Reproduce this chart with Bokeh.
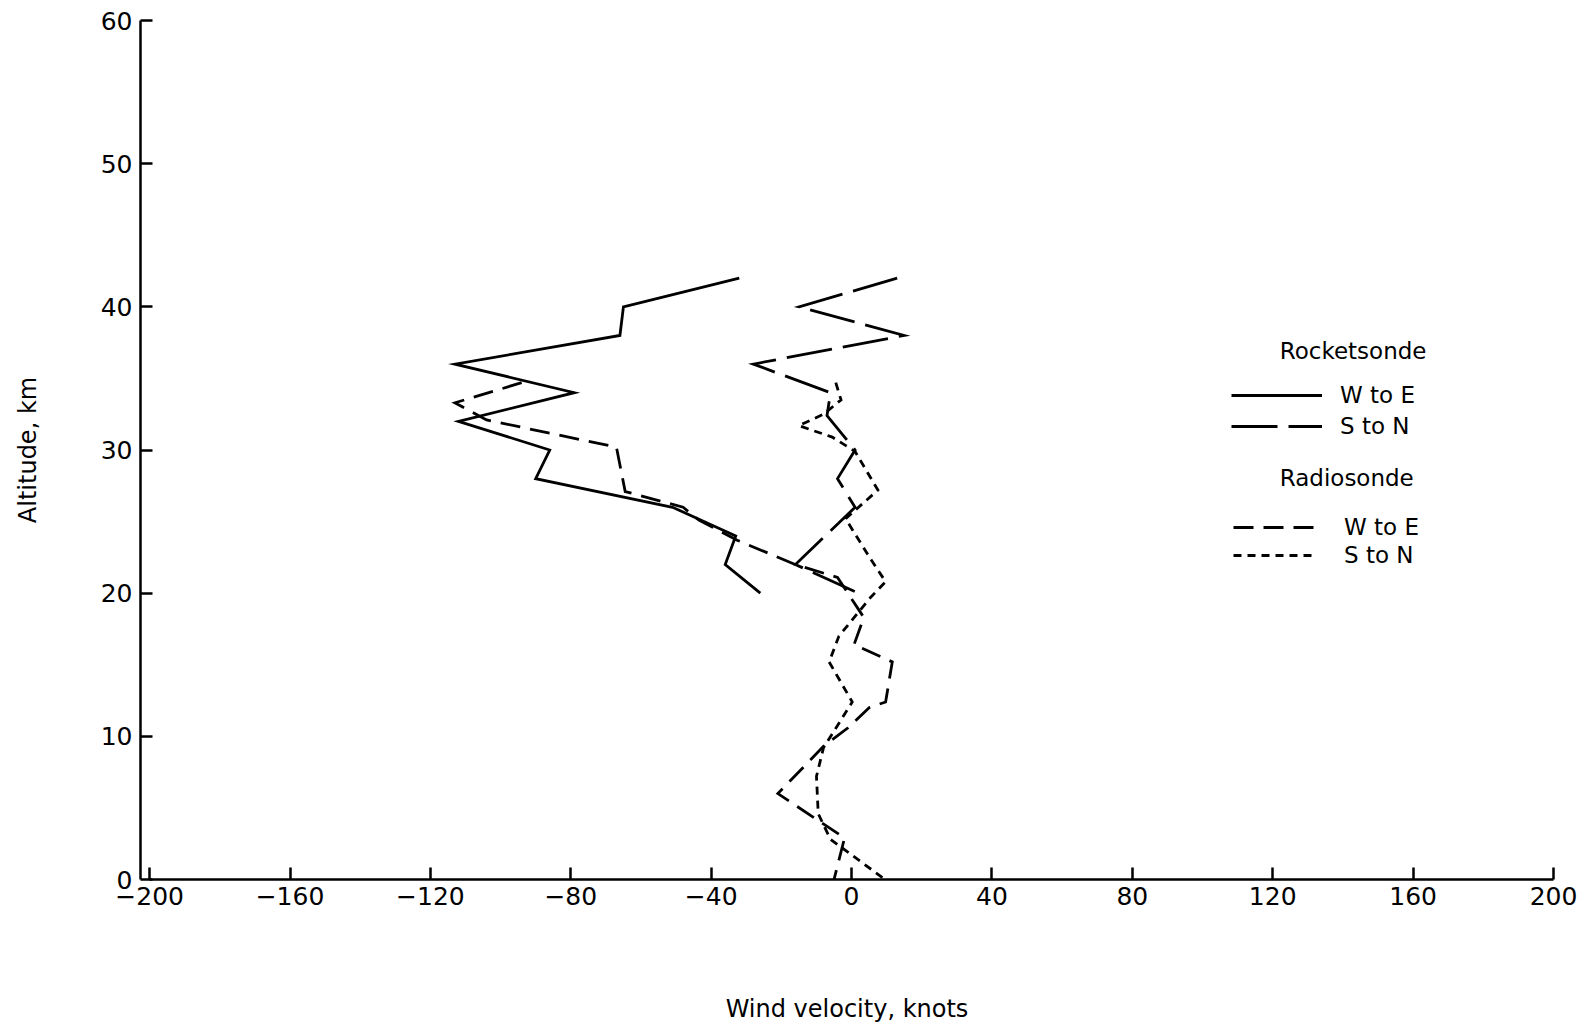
from bokeh.plotting import figure
from bokeh.models import Range1d, FixedTicker, Legend, LegendItem, Label
from bokeh.embed import file_html
from bokeh.resources import INLINE

# ---- data (altitude in km, wind component in knots) ----
rocket_alt_we = [42, 40, 38, 36, 34, 32, 30, 28, 26, 24, 22, 20]
rocket_we = [-32, -65, -66, -113, -79, -112, -86, -90, -51, -33, -36, -26]

rocket_alt_sn = [42, 40, 38, 36, 34, 32.4, 30, 28, 26, 22, 20]
rocket_sn = [13, -15, 15, -28, -6, -7, 1, -4, 1, -16, 2]

radio_alt_we = [34.7, 33.3, 32.1, 30.2, 27.1, 26.0, 25.1, 23.7, 22.0, 21.1,
                18.3, 16.4, 15.2, 12.4, 12.0, 10.6, 9.3, 6.0, 2.9, 0.0]
radio_we = [-94, -113, -104, -67, -64.5, -48, -43.5, -32.6, -16, -4,
            3.5, 0.7, 11.6, 9.7, 5, -1, -8, -21, -2, -5]

radio_alt_sn = [34.7, 33.5, 32.5, 31.7, 30.9, 29.9, 27.2, 25.2, 22.4, 20.8,
                19.7, 17.0, 15.2, 12.4, 9.2, 7.2, 4.6, 2.8, 0.1]
radio_sn = [-4.5, -3, -8, -15, -5.5, 1, 7.5, -1.7, 5.4, 9.7,
            5.4, -3.6, -6.4, 0.2, -8, -10, -9.5, -6, 9]

x_ticks = [-200, -160, -120, -80, -40, 0, 40, 80, 120, 160, 200]
y_ticks = [0, 10, 20, 30, 40, 50, 60]

FONT = "DejaVu Sans"

p = figure(width=1585, height=1034, output_backend="svg", toolbar_location=None,
           x_range=Range1d(-202.6, 200), y_range=Range1d(0, 60),
           min_border_left=140, min_border_right=32, min_border_top=20,
           min_border_bottom=155)
p.grid.visible = False
p.outline_line_color = None
p.background_fill_color = "white"

for ax in (p.xaxis[0], p.yaxis[0]):
    ax.axis_line_width = 2.5
    ax.axis_line_color = "black"
    ax.major_tick_in = 12
    ax.major_tick_out = 0
    ax.major_tick_line_width = 2.5
    ax.minor_tick_line_color = None
    ax.major_label_text_font = FONT
    ax.major_label_text_font_size = "25px"
    ax.major_label_text_color = "black"
    ax.axis_label_text_font = FONT
    ax.axis_label_text_font_size = "24px"
    ax.axis_label_text_font_style = "normal"
    ax.axis_label_text_color = "black"

p.xaxis.ticker = FixedTicker(ticks=x_ticks)
p.xaxis.major_label_overrides = {t: str(t).replace("-", "\u2212") for t in x_ticks}
p.xaxis.bounds = (-200, 200)
p.xaxis.major_label_standoff = 7
p.xaxis.axis_label = "Wind velocity, knots"
p.xaxis.axis_label_standoff = 87

p.yaxis.ticker = FixedTicker(ticks=y_ticks)
p.yaxis.major_label_overrides = {t: str(t) for t in y_ticks}
p.yaxis.major_label_standoff = 8
p.yaxis.axis_label = "Altitude, km"
p.yaxis.axis_label_standoff = 56

lw = 2.8
r1 = p.line(rocket_we, rocket_alt_we, line_color="black", line_width=lw, line_join="miter")
r2 = p.line(rocket_sn, rocket_alt_sn, line_color="black", line_width=lw, line_join="miter",
            line_dash="46 11")
r3 = p.line(radio_we, radio_alt_we, line_color="black", line_width=lw, line_join="miter",
            line_dash="20 10")
r4 = p.line(radio_sn, radio_alt_sn, line_color="black", line_width=lw, line_join="miter",
            line_dash="8 6")

common = dict(border_line_alpha=0, background_fill_alpha=0, padding=0, margin=0,
              label_text_font=FONT, label_text_font_size="23px",
              label_text_color="black", label_text_baseline="middle")

leg1 = Legend(items=[LegendItem(label="W to E", renderers=[r1]),
                     LegendItem(label="S to N", renderers=[r2])],
              location=(1091, 440), glyph_width=91, glyph_height=22, label_height=22,
              label_standoff=18, spacing=5, **common)
leg2 = Legend(items=[LegendItem(label="W to E", renderers=[r3]),
                     LegendItem(label="S to N", renderers=[r4])],
              location=(1093, 311), glyph_width=81, glyph_height=22, label_height=22,
              label_standoff=30, spacing=2, **common)
p.add_layout(leg1, "center")
p.add_layout(leg2, "center")

p.add_layout(Label(x=122, y=36.9, text="Rocketsonde", text_font=FONT,
                   text_font_size="23px", text_baseline="middle", text_color="black"))
p.add_layout(Label(x=122, y=28.05, text="Radiosonde", text_font=FONT,
                   text_font_size="23px", text_baseline="middle", text_color="black"))

open("out.html", "w").write(file_html(p, INLINE))
